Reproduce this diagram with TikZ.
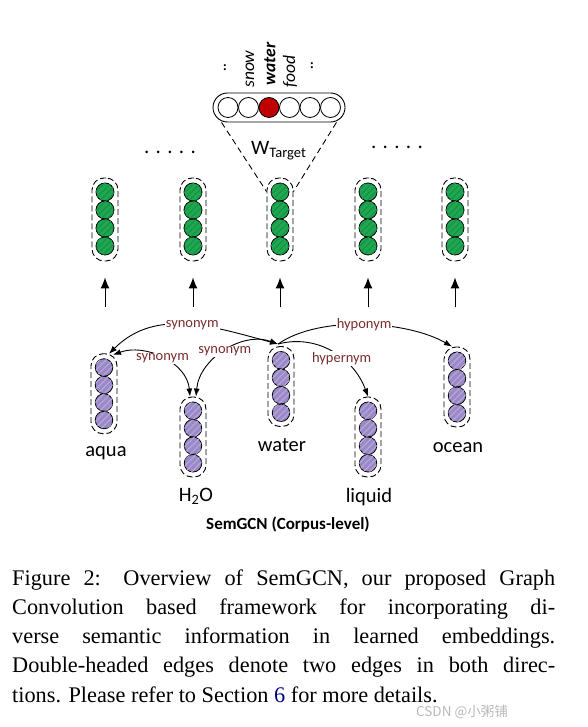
\documentclass[tikz,border=0pt]{standalone}
\usepackage{fontspec}
\setmainfont{Liberation Serif}
\newfontfamily\carlito{Carlito}
\newfontfamily\cjkfont{Noto Sans CJK SC}
\usepackage{xcolor}
\usetikzlibrary{arrows.meta}
\usetikzlibrary{patterns.meta}
\usetikzlibrary{positioning}

\definecolor{cellgreen}{HTML}{1FA84F}
\definecolor{stripegreen}{HTML}{17934A}
\definecolor{cellpurple}{HTML}{9B89C7}
\definecolor{stripepurple}{HTML}{B3A5DA}
\definecolor{relred}{HTML}{7A2E2E}
\definecolor{wordred}{HTML}{C00000}
\definecolor{linkblue}{HTML}{00007F}

\tikzset{
  colbox/.style={draw, dash pattern=on 6pt off 3pt, rounded corners=12pt, line width=0.9pt, minimum width=26pt, inner sep=0pt},
  greencell/.style={circle, draw, line width=0.8pt, minimum size=18pt, inner sep=0pt, fill=cellgreen,
    postaction={pattern color=stripegreen, pattern={Lines[angle=45, distance=4.5pt, line width=1.3pt]}}},
  purplecell/.style={circle, draw, line width=0.8pt, minimum size=17.5pt, inner sep=0pt, fill=cellpurple,
    postaction={pattern color=stripepurple, pattern={Lines[angle=45, distance=4.5pt, line width=1.3pt]}}},
  wcell/.style={circle, draw, line width=0.8pt, minimum size=20pt, inner sep=0pt},
  vocab/.style={rotate=90, anchor=west, inner sep=0pt, font=\carlito\itshape\fontsize{17.5}{20}\selectfont},
  wordlabel/.style={anchor=base, inner sep=0pt, font=\carlito\fontsize{20.5}{24}\selectfont},
  rellabel/.style={fill=white, inner sep=1pt, text=relred, font=\carlito\fontsize{14.5}{16}\selectfont},
  relation/.style={line width=0.9pt, >={Latex[length=8pt, width=6pt]}},
  uparrow/.style={line width=1pt, -{Latex[length=11pt, width=9pt]}},
  funnel/.style={line width=0.9pt, dash pattern=on 6pt off 4pt},
  captionline/.style={anchor=base west, inner sep=0pt, font=\fontsize{22.3}{26}\selectfont},
}

\begin{document}
\begin{tikzpicture}[x=1pt, y=1pt]
\useasboundingbox (0,0) rectangle (587,-727);

% target embedding vector
\node (wbox) [draw, line width=0.9pt, rounded corners=14.5pt, minimum width=132pt, minimum height=29pt] at (279,-107.5) {};
\foreach \k/\c in {0/white, 1/white, 2/wordred, 3/white, 4/white, 5/white}
  \node (w-\k) [wcell, fill=\c] at ({228+20.5*\k},-107.5) {};
\node (voc-0) [vocab] at (225,-72) {..};
\node (voc-1) [vocab] at (250,-88) {snow};
\node (voc-2) [vocab, font=\carlito\bfseries\itshape\fontsize{17.5}{20}\selectfont] at (270,-86) {water};
\node (voc-3) [vocab] at (290,-88) {food};
\node (voc-4) [vocab] at (312,-70) {..};
\node (wtarget) [anchor=base, inner sep=0pt, font=\carlito\fontsize{20.5}{24}\selectfont] at (278.5,-155) {W\raisebox{-2.5pt}{\fontsize{14.5}{16}\selectfont Target}};

% output embeddings
\foreach \name/\x in {top1/105, top2/193, top3/280, top4/368, top5/455} {
  \node (\name) [colbox, minimum height=83pt] at (\x,-219.5) {};
  \foreach \k in {0,...,3}
    \node (\name-\k) [greencell] at (\x,{-192-18*\k}) {};
}
\node (dots-left) [inner sep=0pt, font=\carlito\fontsize{21}{21}\selectfont] at (170,-152) {. . . . .};
\node (dots-right) [inner sep=0pt, font=\carlito\fontsize{21}{21}\selectfont] at (397,-147) {. . . . .};

\draw [funnel] ([xshift=9pt]wbox.south west) -- ([yshift=-14pt]top3.north west);
\draw [funnel] ([xshift=-9pt]wbox.south east) -- ([yshift=-14pt]top3.north east);

\foreach \name in {top1, top2, top3, top4, top5}
  \draw [uparrow] ([yshift=-46pt]\name.south) -- ([yshift=-16pt]\name.south);

% input word graph
\foreach \name/\x/\y in {aqua/104/-393.75, h2o/193/-437, water/281/-386.5, liquid/368/-437, ocean/457/-387} {
  \node (\name) [colbox, minimum height=80pt] at (\x,\y) {};
  \foreach \k in {0,...,3}
    \node (\name-\k) [purplecell] at (\x,{\y+(1.5-\k)*17.5}) {};
}
\node (aqua-word) [wordlabel] at (106,-456) {aqua};
\node (h2o-word) [wordlabel] at (196,-501) {H\textsubscript{2}O};
\node (water-word) [wordlabel] at (282,-451) {water};
\node (liquid-word) [wordlabel] at (369,-502) {liquid};
\node (ocean-word) [wordlabel] at (458,-452) {ocean};

\coordinate (water-in) at ([shift={(-3pt,2pt)}]water.north);
\draw [relation, <->] ([shift={(5pt,-0.5pt)}]aqua.north) to [out=45, in=165] node [rellabel, pos=0.53] {synonym} (water-in);
\draw [relation, <->] ([shift={(9pt,-1.5pt)}]aqua.north) to [out=20, in=95] node [rellabel] {synonym} ([xshift=-3pt]h2o.north);
\draw [relation, <->] (water-in) to [out=160, in=85] node [rellabel] {synonym} ([xshift=3pt]h2o.north);
\draw [relation, ->] (water-in) to [out=35, in=150, looseness=0.75] node [rellabel] {hyponym} ([xshift=-5pt]ocean.north);
\draw [relation, ->] (water-in) to [out=15, in=110] node [rellabel, pos=0.6] {hypernym} (liquid.north);

\node (title) [anchor=base, inner sep=0pt, font=\carlito\bfseries\fontsize{17}{20}\selectfont] at (288,-529) {SemGCN (Corpus-level)};

% caption
\node (cap-1) [captionline] at (12,-585) {\makebox[543pt][s]{Figure 2: Overview of SemGCN, our proposed Graph}};
\node (cap-2) [captionline] at (12,-614.3) {\makebox[543pt][s]{Convolution based framework for incorporating di-}};
\node (cap-3) [captionline] at (12,-643.6) {\makebox[543pt][s]{verse semantic information in learned embeddings.}};
\node (cap-4) [captionline] at (12,-672.9) {\makebox[543pt][s]{Double-headed edges denote two edges in both direc-}};
\node (cap-5) [captionline] at (12,-702.2) {tions. Please refer to Section {\color{linkblue}6} for more details.};
\node (mark) [anchor=base east, inner sep=0pt, text=gray!55, font=\cjkfont\fontsize{13.5}{15}\selectfont] at (508,-716) {CSDN @小粥铺};
\end{tikzpicture}
\end{document}
